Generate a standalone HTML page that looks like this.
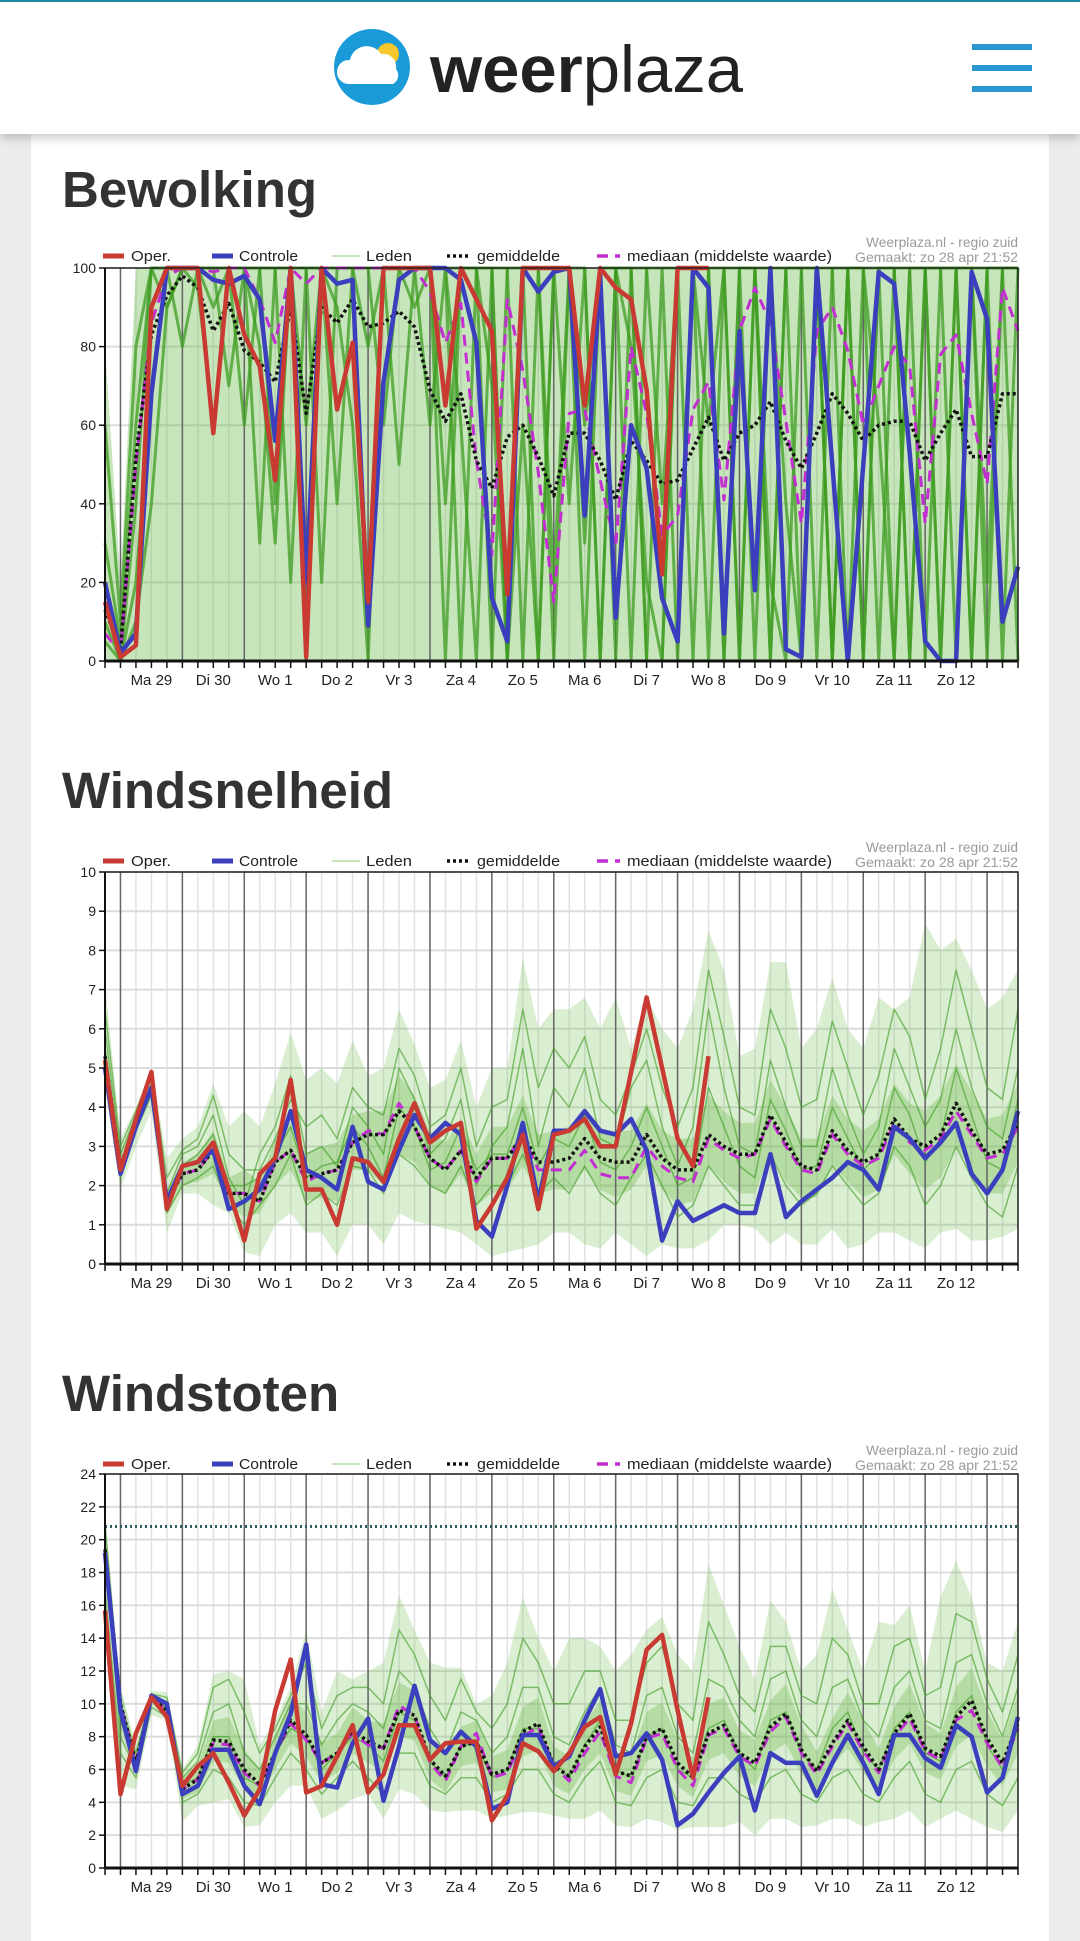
<!DOCTYPE html>
<html><head><meta charset="utf-8">
<style>
html,body{margin:0;padding:0;}
body{width:1080px;height:1941px;background:#ececec;position:relative;overflow:hidden;font-family:"Liberation Sans",sans-serif;}
#topline{position:absolute;left:0;top:0;width:1080px;height:2px;background:#1f8fa8;}
#header{position:absolute;left:0;top:2px;width:1080px;height:132px;background:#fff;box-shadow:0 4px 10px rgba(0,0,0,.22);z-index:2;}
#card{position:absolute;left:31px;top:134px;width:1018px;height:1807px;background:#fff;}
.title{position:absolute;left:62px;font:bold 51px "Liberation Sans",sans-serif;color:#333;margin:0;}
.burger{position:absolute;left:972px;width:60px;height:6px;background:#2a97d0;}
svg.chart{position:absolute;left:0;top:0;}
</style></head>
<body>
<div id="topline"></div>
<div id="header">
  <svg width="1080" height="132" style="position:absolute;left:0;top:0">
    <circle cx="372" cy="65" r="38" fill="#1b9ad8"/>
    <circle cx="388" cy="52" r="11" fill="#f6c62c"/>
    <path d="M348 82 a12 12 0 0 1 2 -24 a17 17 0 0 1 31 -6 a13 13 0 0 1 15 15 a10 10 0 0 1 -3 15 z" fill="#fff"/>
    <text x="430" y="90" font-family="Liberation Sans,sans-serif" font-size="66" fill="#222" textLength="313" lengthAdjust="spacingAndGlyphs"><tspan font-weight="bold">weer</tspan><tspan>plaza</tspan></text>
  </svg>
  <div class="burger" style="top:42px"></div>
  <div class="burger" style="top:63px"></div>
  <div class="burger" style="top:84px"></div>
</div>
<div id="card"></div>
<h2 class="title" style="top:160px">Bewolking</h2>
<h2 class="title" style="top:761px">Windsnelheid</h2>
<h2 class="title" style="top:1364px">Windstoten</h2>
<svg class="chart" id="charts" width="1080" height="1941"></svg>
<script>
// ---- shared categories ----
const dayLabels = ["Ma 29","Di 30","Wo 1","Do 2","Vr 3","Za 4","Zo 5","Ma 6","Di 7","Wo 8","Do 9","Vr 10","Za 11","Zo 12"];

// ---- Bewolking (%) ----
const cloudTicks = [0,20,40,60,80,100];
const cloudOper = [15,1,4,90,100,100,100,58,100,83,75,46,100,1,100,64,81,15,100,100,100,100,65,100,92,84,17,100,100,100,100,65,100,95,92,69,22,100,100,100];
const cloudCtrl = [20,2,7,68,100,100,100,97,96,98,92,56,100,20,100,96,97,9,71,97,100,100,100,97,81,16,5,100,94,99,100,37,98,11,60,49,16,5,100,95,7,84,18,100,3,1,100,50,0,50,99,96,53,5,0,0,99,87,10,24];
const cloudMean = [13,3,52,83,93,98,95,84,91,79,76,71,90,63,90,86,92,85,86,89,85,69,61,68,51,44,57,60,52,42,58,58,51,41,56,51,45,46,54,62,51,58,60,66,56,49,58,68,63,56,60,61,61,51,58,64,52,52,68,68];
const cloudMedian = [7,2,50,86,98,100,100,99,100,100,92,81,100,96,100,100,100,100,100,100,100,94,81,91,51,27,92,74,48,15,63,64,46,29,80,63,32,37,64,71,41,84,95,86,61,35,84,90,79,60,70,80,75,35,78,83,63,45,95,84];
const cloudLo = [0,0,0,0,0,0,0,0,0,0,0,0,0,0,0,0,0,0,0,0,0,0,0,0,0,0,0,0,0,0,0,0,0,0,0,0,0,0,0,0,0,0,0,0,0,0,0,0,0,0,0,0,0,0,0,0,0,0,0,0];
const cloudHi = [80,20,100,100,100,100,100,100,100,100,100,100,100,100,100,100,100,100,100,100,100,100,100,100,100,100,100,100,100,100,100,100,100,100,100,100,100,100,100,100,100,100,100,100,100,100,100,100,100,100,100,100,100,100,100,100,100,100,100,100];
const cloudM1 = [10,0,40,100,100,100,95,60,100,100,80,30,100,0,100,90,60,0,100,100,100,100,40,100,100,70,0,100,100,100,100,30,100,100,80,20,0,100,100,100,0,100,100,20,0,100,100,0,100,100,0,100,100,100,0,100,100,20,100,100];
const cloudM2 = [5,0,20,70,100,100,100,90,100,60,100,100,20,100,100,40,100,100,60,100,100,60,100,0,100,100,0,60,0,100,40,100,0,100,100,0,100,0,100,60,100,0,100,100,40,0,100,100,0,100,60,0,100,0,100,100,0,100,100,0];
const cloudM3 = [30,5,60,100,100,80,100,100,70,100,30,100,100,60,100,100,100,80,100,100,90,100,100,60,0,100,100,0,100,20,100,60,100,0,100,100,40,100,0,100,100,0,100,0,100,100,0,100,100,0,100,100,0,100,100,0,100,100,0,100];
const cloudM4 = [60,10,80,100,90,100,100,100,100,100,100,40,100,100,20,100,100,100,100,50,100,100,100,100,100,0,100,100,100,0,100,0,100,100,0,100,100,100,100,0,100,100,0,100,100,0,100,0,100,100,100,0,100,100,0,100,100,0,100,100];
const cloudM5 = [0,0,10,40,90,100,100,100,100,100,100,100,100,100,100,100,100,100,100,100,100,100,0,100,100,100,0,100,0,100,100,100,0,100,100,0,0,100,100,100,0,100,100,0,100,100,100,0,100,0,100,100,0,100,100,100,0,100,100,100];

// ---- Windsnelheid ----
const windTicks = [0,1,2,3,4,5,6,7,8,9,10];
const windOper = [5.2,2.4,3.7,4.9,1.4,2.5,2.6,3.1,1.9,0.6,2.3,2.7,4.7,1.9,1.9,1.0,2.7,2.6,2.1,3.2,4.1,3.1,3.4,3.6,0.9,1.5,2.2,3.3,1.4,3.3,3.4,3.7,3.0,3.0,4.9,6.8,5.0,3.2,2.5,5.3];
const windCtrl = [5.0,2.3,3.5,4.5,1.6,2.5,2.6,2.9,1.4,1.6,1.9,2.7,3.9,2.4,2.2,1.9,3.5,2.1,1.9,2.9,3.8,3.2,3.6,3.3,1.1,0.7,2.0,3.6,1.6,3.4,3.4,3.9,3.4,3.3,3.7,2.9,0.6,1.6,1.1,1.3,1.5,1.3,1.3,2.8,1.2,1.6,1.9,2.2,2.6,2.4,1.9,3.5,3.2,2.7,3.1,3.6,2.3,1.8,2.4,3.9];
const windMean = [5.3,2.5,3.6,4.5,1.6,2.3,2.4,2.9,1.8,1.8,1.6,2.6,2.9,2.2,2.3,2.4,3.1,3.3,3.3,3.9,3.5,2.7,2.4,2.9,2.2,2.7,2.7,3.3,2.6,2.6,2.7,3.2,2.7,2.6,2.6,3.3,2.7,2.4,2.4,3.3,3.0,2.8,2.8,3.8,3.1,2.5,2.4,3.4,2.9,2.6,2.8,3.7,3.2,3.0,3.3,4.1,3.4,2.8,2.9,3.6];
const windMedian = [5.2,2.5,3.6,4.5,1.6,2.3,2.4,2.9,1.8,1.8,1.6,2.6,2.9,2.1,2.3,2.4,3.1,3.4,3.3,4.1,3.5,2.7,2.4,2.9,2.1,2.7,2.7,3.3,2.4,2.4,2.4,2.9,2.3,2.2,2.2,3.0,2.5,2.2,2.1,3.2,2.9,2.7,2.8,3.7,3.0,2.4,2.3,3.3,2.8,2.5,2.7,3.6,3.1,2.9,3.2,3.9,3.3,2.7,2.8,3.5];
const windLo = [4.5,1.9,3.0,3.9,0.8,1.8,1.8,1.5,1.3,0.3,0.2,1.0,1.3,0.8,0.8,0.2,1.0,1.0,0.5,1.3,1.1,1.0,0.9,0.8,0.5,0.2,0.3,0.4,0.5,0.8,0.8,0.5,0.4,0.8,0.5,0.2,0.5,0.4,0.4,0.6,1.0,1.0,0.9,0.5,0.8,0.5,0.5,0.9,0.4,0.5,0.8,0.8,0.6,0.4,0.8,0.9,0.6,0.6,0.7,0.9];
const windHi = [7.2,3.2,4.0,5.0,2.7,3.2,3.5,4.6,3.5,3.9,3.5,4.6,5.9,4.7,5.0,4.6,5.7,4.8,5.0,6.5,5.6,4.5,4.7,5.7,4.0,5.0,5.0,7.8,6.0,6.5,6.5,6.8,6.0,6.8,5.5,6.8,6.0,5.5,6.5,8.5,7.5,5.3,5.5,7.7,7.7,5.5,6.0,7.3,6.0,5.5,6.8,6.5,6.8,8.7,8.0,8.3,7.5,6.5,6.8,7.5];
const windQ1 = [5.0,2.3,3.4,4.3,1.3,2.0,2.1,2.3,1.5,1.2,1.3,2.0,2.4,1.6,1.7,1.6,2.4,2.4,2.0,2.8,2.6,2.0,1.8,2.3,1.5,1.8,1.9,2.5,1.8,1.9,1.9,2.4,1.9,1.7,1.9,2.5,1.9,1.5,1.6,2.5,2.1,1.8,1.8,2.8,2.1,1.7,1.7,2.5,2.1,1.7,1.9,2.8,2.3,1.9,2.2,3.0,2.4,1.8,1.8,2.6];
const windQ3 = [5.7,2.8,3.8,4.7,1.9,2.6,2.8,3.4,2.2,2.4,2.1,3.2,3.6,2.8,3.0,3.1,3.8,3.9,3.9,4.8,4.3,3.4,3.1,3.7,2.8,3.5,3.5,4.3,3.3,3.4,3.5,4.0,3.4,3.4,3.4,4.1,3.4,3.2,3.2,4.3,3.9,3.6,3.6,4.7,4.0,3.2,3.2,4.3,3.7,3.4,3.7,4.6,4.1,3.9,4.3,5.1,4.4,3.7,3.8,4.6];
const windM1 = [6.0,2.8,3.8,4.8,1.8,2.8,3.0,3.8,2.2,1.5,2.8,3.5,4.8,2.8,3.0,2.5,4.0,3.5,2.8,5.0,4.2,2.8,3.2,4.2,2.0,3.0,3.5,5.5,3.0,4.5,4.0,5.0,3.2,3.0,4.5,5.2,3.5,2.5,3.5,6.5,4.5,3.0,2.8,5.2,4.0,3.0,3.0,5.0,3.8,2.8,3.5,5.5,4.5,3.5,4.2,6.0,4.5,3.5,3.2,5.0];
const windM2 = [5.0,2.2,3.4,4.3,1.3,2.0,2.2,2.5,1.5,1.0,1.5,2.0,2.8,1.5,1.8,1.5,2.5,2.4,1.8,2.8,2.5,2.0,1.8,2.5,1.5,2.0,2.0,2.8,1.8,2.2,1.8,2.5,1.8,1.5,2.2,2.8,2.0,1.2,1.5,2.5,2.0,1.5,1.5,2.8,2.0,1.5,1.8,2.5,2.0,1.5,1.8,3.0,2.5,1.5,2.0,3.0,2.2,1.5,1.2,2.5];
const windM3 = [5.5,2.5,3.6,4.6,1.6,2.5,2.8,3.3,2.0,2.0,2.2,2.8,3.5,2.2,2.5,2.6,3.5,3.0,2.2,4.0,3.5,2.4,2.6,3.5,2.4,2.8,2.8,4.0,2.5,3.2,3.0,3.8,2.6,2.4,3.0,4.0,3.0,2.0,2.2,4.5,3.5,2.5,2.2,4.2,3.4,2.4,2.5,4.0,3.2,2.4,2.8,4.5,3.8,2.6,3.2,5.0,3.8,2.6,2.4,4.2];
const windM4 = [6.5,3.0,3.9,4.9,2.2,2.9,3.2,4.3,2.8,2.4,2.4,3.2,4.2,3.5,3.8,3.2,4.5,4.0,3.8,5.5,4.8,3.5,3.8,5.0,3.0,4.0,4.2,6.5,4.5,5.5,5.0,5.8,4.2,3.8,4.8,6.0,4.5,3.5,4.5,7.5,5.8,4.0,3.8,6.5,5.5,4.0,4.2,6.2,5.0,3.8,4.8,6.5,5.8,4.2,5.5,7.5,6.0,4.5,4.2,6.5];

// ---- Windstoten ----
const gustTicks = [0,2,4,6,8,10,12,14,16,18,20,22,24];
const gustThreshold = [20.8];
const gustOper = [15.7,4.5,8.2,10.4,9.2,5.0,6.2,7.0,5.2,3.2,4.8,9.6,12.7,4.6,5.0,6.8,8.7,4.6,5.7,8.7,8.7,6.6,7.6,7.7,7.7,2.9,4.4,7.6,7.1,5.9,7.0,8.6,9.2,5.7,8.8,13.3,14.2,9.6,5.5,10.4];
const gustCtrl = [19.2,9.6,5.9,10.5,10.0,4.5,5.0,7.2,7.2,5.0,3.9,7.0,9.4,13.6,5.1,4.9,7.6,9.1,4.1,7.4,11.1,7.8,7.0,8.3,7.4,3.6,4.0,8.1,8.1,6.2,6.8,9.0,10.9,6.8,7.0,8.2,6.6,2.6,3.3,4.6,5.8,6.8,3.5,7.0,6.4,6.4,4.4,6.4,8.1,6.4,4.5,8.1,8.1,6.7,6.1,8.7,8.0,4.6,5.5,9.2];
const gustMean = [19.4,10.0,6.4,10.4,9.6,4.8,5.4,7.8,7.7,6.0,5.1,7.0,9.0,8.1,6.4,7.0,8.4,7.7,7.3,9.6,9.3,6.6,5.6,7.4,7.7,5.7,6.0,8.3,8.8,6.2,5.6,7.4,8.6,5.9,5.6,8.0,8.5,6.4,5.5,8.2,8.7,7.0,6.4,8.6,9.4,7.2,5.9,7.6,9.0,7.4,6.0,8.2,9.4,7.3,6.8,9.2,10.2,7.9,6.4,8.8];
const gustMedian = [19.4,10.0,6.4,10.4,9.6,4.8,5.4,7.6,7.5,5.8,5.0,7.0,8.8,7.8,6.4,7.0,8.2,7.5,7.3,9.9,9.3,6.4,5.3,7.4,8.2,5.5,5.8,8.0,8.6,6.2,5.3,7.0,8.3,5.6,5.2,7.9,8.2,6.0,5.0,8.1,8.5,6.8,6.2,8.3,9.2,7.0,5.7,7.4,8.8,7.1,5.8,8.0,9.1,7.1,6.6,9.0,9.6,7.6,6.1,8.5];
const gustLo = [14,5,4.8,9.3,9.0,2.8,3.8,4.0,4.2,2.5,2.6,4.0,5.0,5.0,3.0,3.5,4.2,4.5,3.0,4.8,4.5,3.5,3.4,3.5,3.5,3.0,3.2,3.4,3.4,3.2,3.0,3.0,3.5,2.6,2.5,3.0,2.8,2.3,2.5,2.5,2.5,2.8,2.0,3.0,3.0,2.5,2.6,3.0,3.0,2.5,2.8,3.0,3.5,2.5,3.0,3.5,3.0,2.5,2.2,3.5];
const gustHi = [21.5,11,7.5,10.8,10.7,6.0,7.5,11.8,12.0,11.5,7.5,9.0,11.0,14.5,9.5,12.0,11.5,12.0,12.5,16.6,14.5,12.5,12.2,12.2,10.0,10.5,12.5,16.5,14.0,12.0,14.0,14.0,13.5,12.0,13.0,14.5,15.3,13.0,12.0,18.5,16.0,13.5,11.5,16.3,15.0,12.0,13.0,17.0,14.5,12.0,15.0,14.8,16.0,12.0,16.5,18.7,16.5,12.5,12.0,15.0];
const gustQ1 = [18,8.5,5.8,10.0,9.3,4.2,4.6,6.5,6.4,4.8,4.2,6.0,7.6,6.8,5.2,5.8,7.0,6.4,5.8,8.0,7.8,5.4,4.6,6.2,6.4,4.6,4.8,6.8,7.2,5.0,4.5,6.0,7.0,4.7,4.4,6.5,6.9,5.0,4.3,6.6,7.0,5.6,5.0,7.0,7.6,5.7,4.8,6.2,7.3,5.8,4.8,6.6,7.6,5.8,5.4,7.4,8.1,6.2,5.0,7.0];
const gustQ3 = [20.3,11,7.0,10.7,10.0,5.5,6.3,9.0,9.2,7.2,6.0,8.0,10.4,9.5,7.6,8.2,9.8,9.0,8.8,11.3,10.8,7.8,6.8,8.6,9.0,6.8,7.2,9.8,10.4,7.4,6.8,8.8,10.2,7.1,6.8,9.5,10.1,7.8,6.7,10.0,10.4,8.4,7.8,10.2,11.2,8.7,7.1,9.1,10.7,9.0,7.3,9.8,11.2,8.8,8.2,11.0,12.2,9.6,7.8,10.6];
const gustM1 = [20,9,6.5,10.2,9.8,5.5,6.5,9.5,10.0,7.0,6.0,8.0,10.0,10.0,7.5,9.0,10.0,9.5,8.5,12.0,11.0,8.5,7.0,9.5,9.0,7.0,8.0,11.0,11.0,8.0,7.5,9.5,11.0,7.5,7.0,10.5,11.0,8.0,7.0,11.5,11.0,9.0,8.0,11.5,12.0,9.0,8.0,11.0,11.5,9.0,8.0,11.0,12.0,9.0,8.5,12.5,13.0,10.0,8.0,11.0];
const gustM2 = [17,7,5.5,9.8,9.2,4.0,4.5,6.0,5.5,4.0,3.8,5.5,7.0,6.0,4.5,5.5,6.5,5.5,4.5,7.0,7.0,5.0,4.5,5.5,5.5,4.0,4.5,6.0,6.0,4.5,4.0,5.5,6.5,4.0,3.8,5.5,6.0,4.0,3.8,5.5,5.5,4.5,4.0,5.5,6.0,4.5,4.0,5.5,6.0,4.5,4.0,5.5,6.5,4.5,4.0,6.0,6.5,4.5,3.8,5.5];
const gustM3 = [19,8,6.0,10.5,9.6,5.0,5.5,8.0,8.0,5.5,5.0,7.0,8.5,8.0,6.0,7.0,8.0,7.5,6.5,9.5,9.0,6.5,5.5,7.5,7.5,5.5,6.0,8.5,8.5,6.5,5.5,7.5,9.0,6.0,5.5,8.0,8.5,6.0,5.5,8.5,9.0,7.0,6.0,9.0,9.5,7.0,6.0,8.5,9.5,7.0,6.0,8.5,9.5,7.0,6.5,9.5,10.5,7.5,6.0,8.5];
const gustM4 = [21,10,7.0,10.6,10.4,5.8,7.0,11.0,11.5,9.5,7.0,8.5,10.5,12.5,8.5,10.5,11.0,11.0,10.0,14.5,13.0,10.5,9.0,11.5,9.5,8.5,10.0,14.0,12.5,10.0,10.0,12.0,12.0,9.0,9.0,12.5,13.5,10.0,9.0,15.0,13.0,10.5,9.5,13.5,13.5,10.5,10.0,14.0,13.0,10.0,10.0,13.5,14.0,10.5,11.0,15.5,15.0,11.5,9.5,13.0];

const NS = "http://www.w3.org/2000/svg";
const root = document.getElementById("charts");
const LEFT = 105, RIGHT = 1018, NPTS = 60;
function xAt(t){ return LEFT + t*(RIGHT-LEFT)/(NPTS-1); }
function mk(tag, attrs, parent){
  const e = document.createElementNS(NS, tag);
  for (const k in attrs) e.setAttribute(k, attrs[k]);
  (parent||root).appendChild(e);
  return e;
}
function txt(str, attrs, parent){ const e = mk("text", attrs, parent); e.textContent = str; return e; }

function drawChart(cfg){
  const g = mk("g", {});
  
  
  const yAt = v => cfg.bottom - (v/cfg.ymax)*(cfg.bottom-cfg.top);
  for (let t=0;t<NPTS;t++){
    const gl = mk("line",{x1:xAt(t),x2:xAt(t),y1:cfg.top,y2:cfg.bottom,stroke:"#e2e2e2","stroke-width":1.5},g);
    
    
  }
  cfg.ticks.forEach(v=>{
    const hl = mk("line",{x1:LEFT,x2:RIGHT,y1:yAt(v),y2:yAt(v),stroke:"#dcdcdc","stroke-width":2},g);
    
    
  });
  const bandPath = (lo, hi, op, name) => {
    let d = "";
    for (let t=0;t<NPTS;t++) d += (t?"L":"M")+xAt(t)+" "+yAt(hi[t]);
    for (let t=NPTS-1;t>=0;t--) d += "L"+xAt(t)+" "+yAt(lo[t]);
    const band = mk("path",{d:d+"Z",fill:"#6cbb4c","fill-opacity":op,stroke:"none"},g);
    
    
  };
  bandPath(cfg.lo, cfg.hi, cfg.bandOp, 'ensemble-envelope');
  if (cfg.q1) bandPath(cfg.q1, cfg.q3, 0.35, 'ensemble-interquartile-band');
  for (let i=0;i<=14;i++){
    const t = 1+4*i;
    const dl = mk("line",{x1:xAt(t),x2:xAt(t),y1:cfg.top,y2:cfg.bottom,stroke:"#666","stroke-width":1.5},g);
    
    
  }
  const path = (arr, attrs, name) => {
    let p = "";
    arr.forEach((v,t)=>{ p += (t?"L":"M")+xAt(t).toFixed(1)+" "+yAt(v).toFixed(1); });
    const e = mk("path", Object.assign({d:p,fill:"none","stroke-linejoin":"round"},attrs), g);
    
    
    return e;
  };
  cfg.members.forEach(m => path(m, {stroke:"#3f9c22","stroke-width":cfg.memW,"stroke-opacity":cfg.memOp}, "member-line"));
  if (cfg.threshold){
    const th = mk("line",{x1:LEFT,x2:RIGHT,y1:yAt(cfg.threshold[0]),y2:yAt(cfg.threshold[0]),stroke:"#2c5c5c","stroke-width":3,"stroke-dasharray":"2,3"},g);
    
    
  }
  path(cfg.median, {stroke:"#c22ed2","stroke-width":3,"stroke-dasharray":"11,7"}, "median-line");
  path(cfg.mean, {stroke:"#111","stroke-width":3.5,"stroke-dasharray":"3,3"}, "mean-line");
  path(cfg.ctrl, {stroke:"#3b3fbd","stroke-width":4.5}, "controle-line");
  path(cfg.oper, {stroke:"#c93a33","stroke-width":4.5}, "oper-line");
  const fr = mk("rect",{x:LEFT,y:cfg.top,width:RIGHT-LEFT,height:cfg.bottom-cfg.top,fill:"none",stroke:"#222","stroke-width":1.5},g);
  
  
  mk("line",{x1:LEFT,x2:RIGHT,y1:cfg.bottom,y2:cfg.bottom,stroke:"#111","stroke-width":3},g);
  mk("line",{x1:LEFT,x2:LEFT,y1:cfg.top,y2:cfg.bottom,stroke:"#111","stroke-width":2},g);
  for (let t=0;t<NPTS;t++){
    const tk = mk("line",{x1:xAt(t),x2:xAt(t),y1:cfg.bottom,y2:cfg.bottom+7,stroke:"#111","stroke-width":1.5},g);
    
    
  }
  dayLabels.forEach((lab,i)=>{
    const e = txt(lab,{x:xAt(3+4*i),y:cfg.bottom+24,"text-anchor":"middle","font-size":15,"font-family":"Liberation Sans,sans-serif",fill:"#222"},g);
    
    
  });
  cfg.ticks.forEach(v=>{
    mk("line",{x1:LEFT-6,x2:LEFT,y1:yAt(v),y2:yAt(v),stroke:"#111","stroke-width":1.5},g);
    const e = txt(String(v),{x:LEFT-9,y:yAt(v)+5,"text-anchor":"end","font-size":14,"font-family":"Liberation Sans,sans-serif",fill:"#222"},g);
    
    
  });
  const ly = cfg.legendY;
  const lg = mk("g",{},g);
  
  
  mk("line",{x1:103,x2:124,y1:ly,y2:ly,stroke:"#c93a33","stroke-width":5},lg);
  txt("Oper.",{x:131,y:ly+5,"font-size":15,textLength:40,lengthAdjust:"spacingAndGlyphs",fill:"#222","font-family":"Liberation Sans,sans-serif"},lg);
  mk("line",{x1:212,x2:233,y1:ly,y2:ly,stroke:"#3b3fbd","stroke-width":5},lg);
  txt("Controle",{x:239,y:ly+5,"font-size":15,textLength:59,lengthAdjust:"spacingAndGlyphs",fill:"#222","font-family":"Liberation Sans,sans-serif"},lg);
  mk("line",{x1:332,x2:360,y1:ly,y2:ly,stroke:"#b5dca5","stroke-width":1.5},lg);
  txt("Leden",{x:366,y:ly+5,"font-size":15,textLength:46,lengthAdjust:"spacingAndGlyphs",fill:"#222","font-family":"Liberation Sans,sans-serif"},lg);
  mk("line",{x1:447,x2:468,y1:ly,y2:ly,stroke:"#111","stroke-width":3.5,"stroke-dasharray":"3,3"},lg);
  txt("gemiddelde",{x:477,y:ly+5,"font-size":15,textLength:83,lengthAdjust:"spacingAndGlyphs",fill:"#222","font-family":"Liberation Sans,sans-serif"},lg);
  mk("line",{x1:597,x2:620,y1:ly,y2:ly,stroke:"#c22ed2","stroke-width":3.5,"stroke-dasharray":"11,7"},lg);
  txt("mediaan (middelste waarde)",{x:627,y:ly+5,"font-size":15,textLength:205,lengthAdjust:"spacingAndGlyphs",fill:"#222","font-family":"Liberation Sans,sans-serif"},lg);
  txt("Weerplaza.nl - regio zuid",{x:1018,y:ly-9,"text-anchor":"end","font-size":14,textLength:152,lengthAdjust:"spacingAndGlyphs",fill:"#9a9a9a","font-family":"Liberation Sans,sans-serif"},lg);
  txt("Gemaakt: zo 28 apr 21:52",{x:1018,y:ly+6,"text-anchor":"end","font-size":14,textLength:163,lengthAdjust:"spacingAndGlyphs",fill:"#9a9a9a","font-family":"Liberation Sans,sans-serif"},lg);
}

drawChart({name:"bewolking-chart",top:268,bottom:661,ymax:100,ticks:cloudTicks,legendY:256,
  oper:cloudOper,ctrl:cloudCtrl,mean:cloudMean,median:cloudMedian,lo:cloudLo,hi:cloudHi,bandOp:0.38,memW:3,memOp:0.75,
  members:[cloudM1,cloudM2,cloudM3,cloudM4,cloudM5]});
drawChart({name:"windsnelheid-chart",top:872,bottom:1264,ymax:10,ticks:windTicks,legendY:861,
  oper:windOper,ctrl:windCtrl,mean:windMean,median:windMedian,lo:windLo,hi:windHi,q1:windQ1,q3:windQ3,bandOp:0.25,memW:1.5,memOp:0.6,
  members:[windM1,windM2,windM3,windM4]});
drawChart({name:"windstoten-chart",top:1474,bottom:1868,ymax:24,ticks:gustTicks,legendY:1464,threshold:gustThreshold,
  oper:gustOper,ctrl:gustCtrl,mean:gustMean,median:gustMedian,lo:gustLo,hi:gustHi,q1:gustQ1,q3:gustQ3,bandOp:0.25,memW:1.5,memOp:0.6,
  members:[gustM1,gustM2,gustM3,gustM4]});
</script>
</body></html>
